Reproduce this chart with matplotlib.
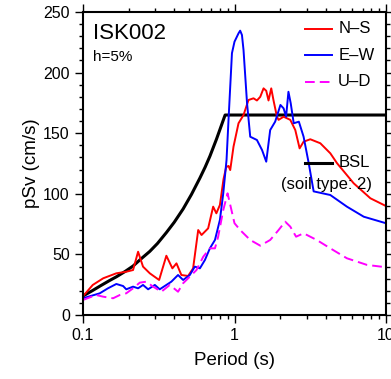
import matplotlib
matplotlib.use('Agg')
import matplotlib.pyplot as plt
from matplotlib.ticker import FixedLocator, FixedFormatter, MultipleLocator, LogLocator, NullFormatter

plt.rcParams['font.family'] = ['Liberation Sans', 'DejaVu Sans']

# N-S component (period s, pSv cm/s)
ns_t = [0.1, 0.116, 0.136, 0.166, 0.193, 0.214, 0.231, 0.249, 0.276, 0.318, 0.355, 0.389,
        0.414, 0.446, 0.494, 0.533, 0.576, 0.606, 0.670, 0.723, 0.759, 0.801, 0.846, 0.881,
        0.913, 0.937, 0.985, 1.063, 1.147, 1.237, 1.335, 1.406, 1.479, 1.555, 1.62, 1.677,
        1.748, 1.81, 1.906, 1.954, 2.109, 2.335, 2.519, 2.69, 2.858, 3.164, 3.685, 4.291,
        4.753, 6.116, 7.887, 10.0]
ns_v = [15.5, 24.8, 30.3, 34.4, 35.7, 37.1, 52.2, 39.9, 34.4, 28.9, 48.9, 38.5,
        42.6, 33.0, 32.2, 38.5, 70.1, 66.0, 71.5, 89.4, 83.9, 90.8, 112.0, 122.0,
        123.0, 119.6, 138.9, 158.2, 165.0, 177.4, 178.8, 177.0, 180.0, 187.0, 185.0, 177.0,
        187.0, 177.0, 163.6, 161.0, 163.6, 161.0, 152.6, 137.5, 143.0, 145.0, 141.7, 133.4,
        125.2, 108.7, 96.3, 89.9]

# E-W component
ew_t = [0.1, 0.129, 0.146, 0.166, 0.184, 0.193, 0.214, 0.231, 0.249, 0.269, 0.298, 0.321,
        0.355, 0.383, 0.424, 0.458, 0.507, 0.547, 0.591, 0.638, 0.688, 0.743, 0.801, 0.843,
        0.886, 0.913, 0.962, 1.0, 1.063, 1.09, 1.12, 1.147, 1.21, 1.27, 1.406, 1.52, 1.62,
        1.72, 1.855, 2.01, 2.109, 2.19, 2.27, 2.35, 2.46, 2.66, 2.858, 3.09, 3.33, 4.29,
        5.52, 7.13, 10.0]
ew_v = [13.8, 17.9, 22.0, 25.6, 23.9, 21.2, 23.4, 22.0, 24.8, 21.2, 24.8, 21.2,
        24.8, 27.5, 33.0, 28.9, 33.0, 39.9, 38.5, 45.4, 55.0, 61.9, 78.4, 100.4,
        127.9, 160.9, 216.0, 225.5, 232.4, 234.6, 231.0, 218.6, 174.7, 147.1, 144.4, 136.1, 126.5,
        152.6, 159.5, 173.3, 170.5, 163.6, 184.2, 174.7, 158.2, 159.5, 147.1, 125.2, 102.0, 99.0,
        89.4, 81.1, 75.7]

# U-D component
ud_t = [0.1, 0.122, 0.136, 0.158, 0.175, 0.193, 0.214, 0.237, 0.262, 0.29, 0.329, 0.374,
        0.424, 0.458, 0.507, 0.561, 0.622, 0.688, 0.743, 0.78, 0.843, 0.9, 1.0, 1.09,
        1.27, 1.479, 1.72, 1.954, 2.16, 2.335, 2.55, 2.858, 3.49, 4.29, 5.52, 7.5, 10.0]
ud_v = [12.4, 16.5, 15.1, 13.8, 16.5, 17.9, 22.0, 26.7, 27.5, 23.4, 19.2, 24.8,
        19.2, 26.2, 31.6, 37.1, 48.1, 55.0, 55.0, 64.6, 86.6, 100.4, 75.7, 70.1,
        61.9, 57.2, 61.9, 70.1, 77.0, 72.9, 64.6, 67.4, 61.9, 55.0, 46.8, 41.3, 39.4]

# BSL design spectrum (soil type 2)
bsl_t = [0.1, 0.115, 0.13, 0.15, 0.166, 0.19, 0.214, 0.24, 0.276, 0.31, 0.355, 0.4,
         0.458, 0.52, 0.591, 0.64, 0.688, 0.76, 0.867, 10.0]
bsl_v = [15.7, 20.0, 24.0, 28.5, 31.5, 36.0, 40.4, 46.0, 52.5, 59.0, 68.0, 76.5,
         87.5, 99.5, 113.0, 122.0, 131.0, 145.0, 165.0, 165.0]

fig = plt.figure(figsize=(3.91, 3.79), dpi=100)
ax = fig.add_axes([83 / 391, 64 / 379, 303 / 391, 303 / 379])

ax.plot(bsl_t, bsl_v, color='black', lw=2.2)
ax.plot(ns_t, ns_v, color='#ff0000', lw=1.4)
ax.plot(ew_t, ew_v, color='#0000ff', lw=1.4)
ax.plot(ud_t, ud_v, color='#ff00ff', lw=1.4, linestyle=(0, (5, 2.6)))

ax.set_xscale('log')
ax.set_xlim(0.1, 10)
ax.set_ylim(0, 250)
ax.xaxis.set_major_locator(FixedLocator([0.1, 1, 10]))
ax.xaxis.set_major_formatter(FixedFormatter(['0.1', '1', '10']))
ax.xaxis.set_minor_locator(LogLocator(base=10, subs=range(2, 10)))
ax.xaxis.set_minor_formatter(NullFormatter())
ax.yaxis.set_major_locator(MultipleLocator(50))
ax.yaxis.set_minor_locator(MultipleLocator(10))

for s in ax.spines.values():
    s.set_linewidth(1.5)
ax.tick_params(which='both', direction='out', top=True, right=True, width=1.0,
               labelsize=11.5)
ax.tick_params(which='major', length=5.5, pad=4)
ax.tick_params(which='minor', length=3)

ax.set_xlabel('Period (s)', fontsize=13.5, labelpad=6)
ax.set_ylabel('pSv (cm/s)', fontsize=13.5, labelpad=2)

ax.text(0.032, 0.965, 'ISK002', transform=ax.transAxes, fontsize=16, va='top', ha='left')
ax.text(0.032, 0.83, 'h=5%', transform=ax.transAxes, fontsize=11, va='bottom', ha='left')

# legend keys drawn by hand to match layout
keys = [('N–S', '#ff0000', '-', 0.944), ('E–W', '#0000ff', '-', 0.858),
        ('U–D', '#ff00ff', (0, (5, 2.6)), 0.769)]
for lab, col, ls, yy in keys:
    ax.plot([0.733, 0.822], [yy, yy], color=col, lw=1.4, linestyle=ls, transform=ax.transAxes)
    ax.text(0.842, yy, lab, transform=ax.transAxes, fontsize=12, va='center', ha='left')
ax.plot([0.733, 0.822], [0.502, 0.502], color='black', lw=2.2, transform=ax.transAxes)
ax.text(0.842, 0.502, 'BSL', transform=ax.transAxes, fontsize=12, va='center', ha='left')
ax.text(0.653, 0.432, '(soil type: 2)', transform=ax.transAxes, fontsize=12, va='center', ha='left')

fig.savefig('out.png', dpi=100)
